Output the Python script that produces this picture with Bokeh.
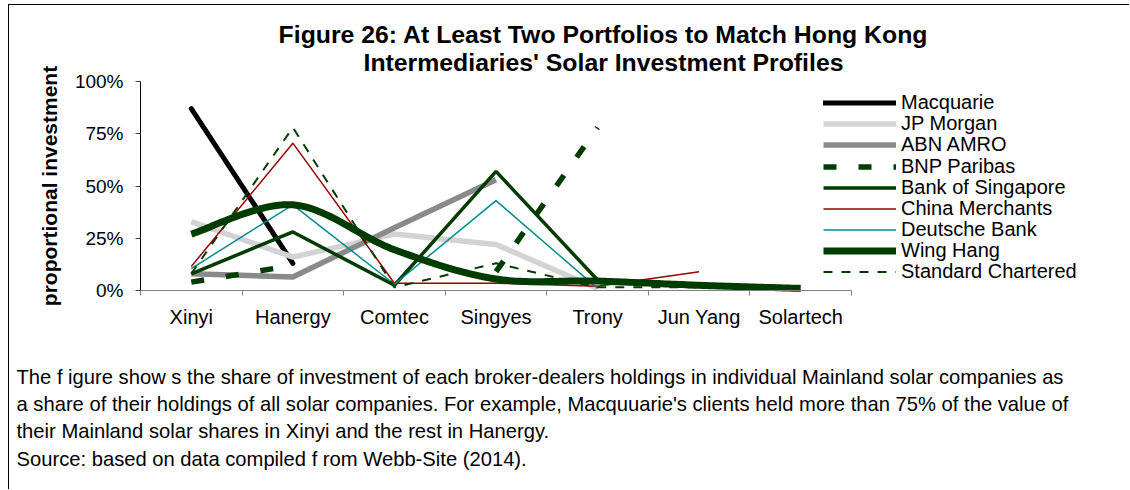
import numpy as np
from bokeh.plotting import figure
from bokeh.models import (Range1d, FixedTicker, NumeralTickFormatter, Label,
                          Legend, LegendItem)
from bokeh.embed import file_html
from bokeh.resources import INLINE

# ---------------- data (percent of each broker's solar holdings) ----------------
categories = ["Xinyi", "Hanergy", "Comtec", "Singyes", "Trony", "Jun Yang", "Solartech"]

macquarie          = [87, 13, None, None, None, None, None]
jp_morgan          = [33, 16, 27, 22, 1, None, None]
abn_amro           = [8, 6.5, 30, 53, None, None, None]
bnp_paribas        = [4, 12, None, 9, 78, None, None]
bank_of_singapore  = [8, 28, 2.5, 57, 5, None, None]
china_merchants    = [11.5, 70.5, 3.5, 3.5, 2, 9, None]
deutsche_bank      = [10.5, 41, 3, 43, 1, None, None]
wing_hang          = [27, 41, 19.5, 5.5, 4.5, 2.5, 1]
standard_chartered = [8, 78, 1.5, 13, 1.5, 1.5, None]

series_names = ["Macquarie", "JP Morgan", "ABN AMRO", "BNP Paribas", "Bank of Singapore",
                "China Merchants", "Deutsche Bank", "Wing Hang", "Standard Chartered"]
y_ticks = [0, 0.25, 0.5, 0.75, 1.0]

title_lines = ["Figure 26: At Least Two Portfolios to Match Hong Kong",
               "Intermediaries' Solar Investment Profiles"]
caption_lines = [
    "The f igure show s the share of investment of each broker-dealers holdings in individual Mainland solar companies as",
    "a share of their holdings of all solar companies. For example, Macquuarie's clients held more than 75% of the value of",
    "their Mainland solar shares in Xinyi and the rest in Hanergy.",
    "Source: based on data compiled f rom Webb-Site (2014).",
]

FONT = "Liberation Sans"

# ---------------- layout constants (canvas pixels) ----------------
W, H = 1121, 485            # canvas size (page offset 9,5 after margin+border)
OX, OY = 9, 5               # page offset of the canvas
PX_L, PX_R = 131, 842       # plot area left/right
PX_T, PX_B = 76, 285        # plot area top/bottom (from canvas top)
ncat = len(categories)
ux = (PX_R - PX_L) / ncat
uy = (PX_B - PX_T) / 1.0

p = figure(width=W, height=H, output_backend="svg", toolbar_location=None,
           x_range=Range1d(-PX_L / ux, ncat + (W - PX_R) / ux),
           y_range=Range1d(-(H - PX_B) / uy, 1 + PX_T / uy),
           min_border=0, min_border_left=0, min_border_right=0,
           min_border_top=0, min_border_bottom=0, title=None)
p.styles = {"margin-left": "8px", "margin-top": "4px",
            "border-top": "1px solid #000", "border-left": "1px solid #000"}
p.background_fill_color = "white"
p.border_fill_color = "white"
p.outline_line_color = None
p.xgrid.visible = False
p.ygrid.visible = False

centers = [i + 0.5 for i in range(ncat)]
xa = p.xaxis[0]
xa.fixed_location = 0
xa.bounds = (0, ncat)
xa.ticker = FixedTicker(ticks=centers, minor_ticks=list(range(ncat + 1)))
xa.major_label_overrides = {c: name for c, name in zip(centers, categories)}
xa.major_tick_out = 0
xa.major_tick_in = 0
xa.minor_tick_out = 5
xa.minor_tick_in = 0
xa.axis_line_color = "#808080"
xa.minor_tick_line_color = "#808080"
xa.major_label_standoff = 10
xa.major_label_text_font = FONT
xa.major_label_text_font_size = "20px"
xa.major_label_text_color = "#000000"

ya = p.yaxis[0]
ya.fixed_location = 0
ya.bounds = (0, 1)
ya.ticker = FixedTicker(ticks=y_ticks)
ya.formatter = NumeralTickFormatter(format="0%")
ya.major_tick_out = 5
ya.major_tick_in = 0
ya.minor_tick_line_color = None
ya.axis_line_color = "#000000"
ya.major_tick_line_color = "#404040"
ya.major_label_standoff = 12
ya.major_label_text_font = FONT
ya.major_label_text_font_size = "19px"
ya.major_label_text_color = "#000000"
ya.axis_label = "proportional investment"
ya.axis_label_text_font = FONT
ya.axis_label_text_font_size = "21px"
ya.axis_label_text_font_style = "bold"
ya.axis_label_text_color = "#000000"
ya.axis_label_standoff = 11


def frac(vals):
    return np.array(vals, dtype=float) / 100.0


def smooth(xs, ys, n=30):
    """Excel-style smoothed line (cubic Bezier, Catmull-Rom control points)."""
    pts = list(zip(xs, ys))
    ox, oy = [], []
    for i in range(len(pts) - 1):
        p0 = pts[i - 1] if i > 0 else pts[i]
        p1, p2 = pts[i], pts[i + 1]
        p3 = pts[i + 2] if i + 2 < len(pts) else pts[i + 1]
        c1 = (p1[0] + (p2[0] - p0[0]) / 6, p1[1] + (p2[1] - p0[1]) / 6)
        c2 = (p2[0] - (p3[0] - p1[0]) / 6, p2[1] - (p3[1] - p1[1]) / 6)
        ts = np.linspace(0, 1, n, endpoint=(i == len(pts) - 2))
        for t in ts:
            a, b, c, d = (1 - t) ** 3, 3 * t * (1 - t) ** 2, 3 * t ** 2 * (1 - t), t ** 3
            ox.append(a * p1[0] + b * c1[0] + c * c2[0] + d * p2[0])
            oy.append(a * p1[1] + b * c1[1] + c * c2[1] + d * p2[1])
    return ox, oy


x = np.array(centers)
GREEN = "#003c00"

styles = [
    dict(line_color="#000000", line_width=5, line_cap="round"),
    dict(line_color="#d3d3d3", line_width=5.5),
    dict(line_color="#8a8a8a", line_width=5.5),
    dict(line_color=GREEN, line_width=5.5, line_dash="13 22"),
    dict(line_color=GREEN, line_width=3.5),
    dict(line_color="#990000", line_width=1.5),
    dict(line_color="#008b8b", line_width=1.5),
    dict(line_color=GREEN, line_width=7, line_join="round"),
    dict(line_color=GREEN, line_width=2, line_dash="9 9"),
]
data = [macquarie, jp_morgan, abn_amro, bnp_paribas, bank_of_singapore,
        china_merchants, deutsche_bank, wing_hang, standard_chartered]

items = []
for name, vals, st in zip(series_names, data, styles):
    y = frac(vals)
    if name == "Wing Hang":
        m = ~np.isnan(y)
        sx, sy = smooth(list(x[m]), list(y[m]))
        r = p.line(sx, sy, **st)
    else:
        r = p.line(x, y, **st)
    items.append(LegendItem(label=name, renderers=[r]))

# legend: one entry block per series so the row pitch matches the reference (~21px)
LEG_X, LEG_Y0, LEG_STEP, ENTRY_H = 823, 102.7, 21.1, 23
for i, item in enumerate(items):
    cy = LEG_Y0 + i * LEG_STEP          # page y of entry centre
    leg = Legend(items=[item], location=(LEG_X - OX, H - (cy + ENTRY_H / 2 - OY)),
                 padding=0, margin=0, spacing=0, glyph_width=73,
                 glyph_height=ENTRY_H, label_height=ENTRY_H, label_standoff=5,
                 label_text_font=FONT, label_text_font_size="20px",
                 label_text_color="#000000", border_line_color=None,
                 background_fill_alpha=0)
    p.add_layout(leg, "center")

# title (two centred lines) and caption; positions in canvas pixels
for txt, yy in zip(title_lines, [34, 62]):
    p.add_layout(Label(x=603 - OX, y=H - (yy - OY), x_units="screen", y_units="screen",
                       text=txt, text_align="center", text_baseline="middle",
                       text_font=FONT, text_font_size="24.8px", text_font_style="bold",
                       text_color="#000000"))
for txt, yy in zip(caption_lines, [376, 403, 430, 458]):
    p.add_layout(Label(x=16 - OX, y=H - (yy - OY), x_units="screen", y_units="screen",
                       text=txt, text_align="left", text_baseline="middle",
                       text_font=FONT, text_font_size="20.2px", text_color="#000000"))

open("out.html", "w").write(file_html(p, INLINE))
